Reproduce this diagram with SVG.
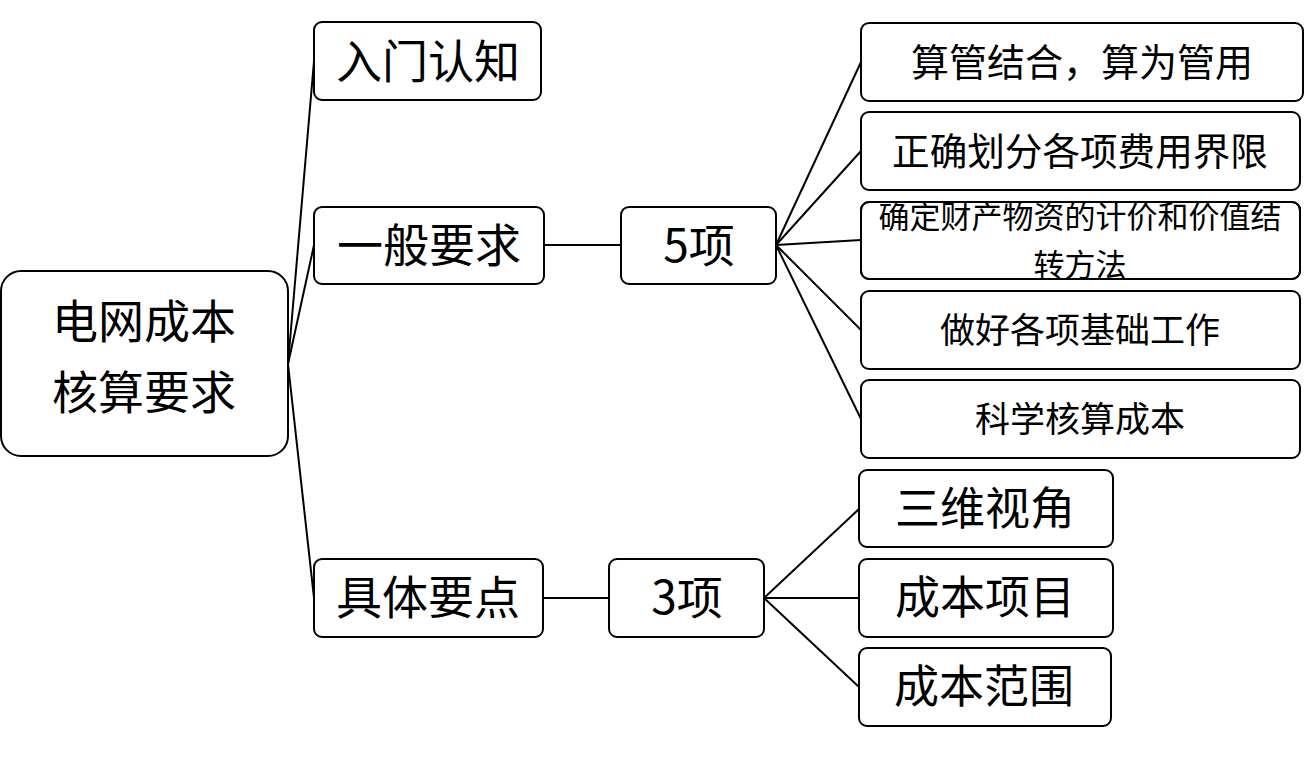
<svg xmlns="http://www.w3.org/2000/svg" width="1309" height="764" viewBox="0 0 1309 764">
<defs>
<style>
.b{fill:#fff;stroke:#000;stroke-width:2}
.t{font-family:"Noto Sans CJK SC","Noto Sans",sans-serif;fill:#000;text-anchor:middle;dominant-baseline:central}
.c line{stroke:#000;stroke-width:2}
</style>
<clipPath id="clip3"><rect x="861" y="202" width="439" height="77" rx="8"/></clipPath>
</defs>
<rect width="1309" height="764" fill="#fff"/>
<g class="c" id="connectors">
<line x1="288" y1="364" x2="314" y2="61"/>
<line x1="288" y1="364" x2="314" y2="245"/>
<line x1="288" y1="364" x2="314" y2="598"/>
<line x1="544" y1="245" x2="621" y2="245"/>
<line x1="543" y1="598" x2="609" y2="598"/>
<line x1="776" y1="245" x2="861" y2="62"/>
<line x1="776" y1="245" x2="861" y2="151"/>
<line x1="776" y1="245" x2="861" y2="240"/>
<line x1="776" y1="245" x2="861" y2="330"/>
<line x1="776" y1="245" x2="861" y2="419"/>
<line x1="764" y1="598" x2="859" y2="509"/>
<line x1="764" y1="598" x2="859" y2="598"/>
<line x1="764" y1="598" x2="859" y2="687"/>
</g>
<g id="root"><rect class="b" x="1" y="271" width="287" height="185" rx="20"/>
<text class="t" x="144" y="318" font-size="46">电网成本</text>
<text class="t" x="144" y="389" font-size="46">核算要求</text></g>
<g id="n1"><rect class="b" x="314" y="22" width="227" height="78" rx="8"/>
<text class="t" x="428" y="58" font-size="46">入门认知</text></g>
<g id="n2"><rect class="b" x="314" y="207" width="230" height="77" rx="8"/>
<text class="t" x="429" y="242" font-size="46">一般要求</text></g>
<g id="n3"><rect class="b" x="314" y="559" width="229" height="78" rx="8"/>
<text class="t" x="428" y="594" font-size="46">具体要点</text></g>
<g id="n5"><rect class="b" x="621" y="207" width="155" height="77" rx="8"/>
<text class="t" x="699" y="242" font-size="46">5项</text></g>
<g id="n3x"><rect class="b" x="609" y="559" width="155" height="78" rx="8"/>
<text class="t" x="687" y="594" font-size="46">3项</text></g>
<g id="r1"><rect class="b" x="861" y="23" width="442" height="78" rx="8"/>
<text class="t" x="1082" y="59" font-size="38">算管结合，算为管用</text></g>
<g id="r2"><rect class="b" x="861" y="112" width="439" height="78" rx="8"/>
<text class="t" x="1080" y="148" font-size="37.6">正确划分各项费用界限</text></g>
<g id="r3"><rect class="b" x="861" y="202" width="439" height="77" rx="8"/>
<g clip-path="url(#clip3)">
<text class="t" x="1080" y="214" font-size="31">确定财产物资的计价和价值结</text>
<text class="t" x="1080" y="262" font-size="31">转方法</text></g>
<rect x="861" y="202" width="439" height="77" rx="8" fill="none" stroke="#000" stroke-width="2"/></g>
<g id="r4"><rect class="b" x="861" y="291" width="439" height="78" rx="8"/>
<text class="t" x="1080" y="327" font-size="35">做好各项基础工作</text></g>
<g id="r5"><rect class="b" x="861" y="380" width="439" height="78" rx="8"/>
<text class="t" x="1080" y="416" font-size="35">科学核算成本</text></g>
<g id="s1"><rect class="b" x="859" y="470" width="254" height="77" rx="8"/>
<text class="t" x="985" y="505" font-size="45">三维视角</text></g>
<g id="s2"><rect class="b" x="859" y="559" width="254" height="78" rx="8"/>
<text class="t" x="985" y="594" font-size="45">成本项目</text></g>
<g id="s3"><rect class="b" x="859" y="648" width="252" height="78" rx="8"/>
<text class="t" x="984" y="683" font-size="45">成本范围</text></g>
</svg>
